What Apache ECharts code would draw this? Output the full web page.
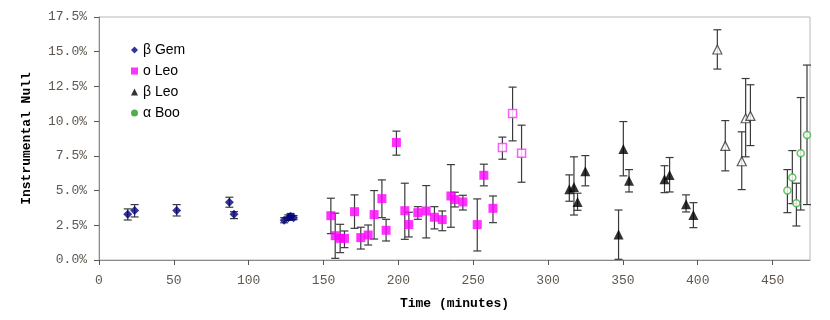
<!DOCTYPE html>
<html>
<head>
<meta charset="utf-8">
<script src="https://cdn.jsdelivr.net/npm/echarts@6/dist/echarts.min.js"></script>
<style>html,body{margin:0;padding:0;background:#fff}#c{width:830px;height:320px}</style>
</head>
<body>
<div id="c"></div>
<script>
// [time (min), null (%), upper (%), lower (%)]
var betaGem = [
  [19.2, 3.29, 3.68, 2.88], [23.8, 3.56, 3.99, 3.10], [51.9, 3.56, 3.99, 3.17],
  [87.1, 4.16, 4.52, 3.80], [90.2, 3.29, 3.48, 2.98], [123.7, 2.86, 3.05, 2.68],
  [126.5, 3.05, 3.25, 2.85], [128.0, 3.15, 3.35, 2.95], [130.0, 3.05, 3.20, 2.90]
];
var oLeo = [
  [154.9, 3.19, 4.45, 1.90], [157.8, 1.75, 3.37, 0.12], [161.1, 1.56, 2.57, 0.53],
  [164.0, 1.56, 2.09, 0.89], [170.7, 3.48, 4.69, 2.28], [174.9, 1.61, 2.36, 0.79],
  [179.8, 1.80, 2.52, 1.08], [183.8, 3.27, 5.00, 1.51], [189.0, 4.42, 5.77, 3.05],
  [191.8, 2.14, 2.93, 1.37], [198.7, 8.46, 9.28, 7.55], [204.3, 3.55, 5.53, 1.49],
  [207.0, 2.55, 3.44, 1.66], [213.0, 3.41, 3.84, 2.93], [218.6, 3.53, 5.36, 1.59],
  [224.1, 3.08, 3.84, 2.24], [229.3, 2.91, 3.53, 2.11], [235.1, 4.61, 6.87, 2.36],
  [237.7, 4.35, 4.88, 3.82], [243.1, 4.18, 4.66, 3.60], [252.7, 2.55, 4.40, 0.65],
  [257.1, 6.10, 6.90, 5.34], [263.2, 3.72, 4.61, 2.69]
];
var oLeoOpen = [
  [269.5, 8.10, 8.85, 7.26], [276.3, 10.55, 12.45, 8.58], [282.3, 7.69, 9.71, 5.60]
];
var betaLeo = [
  [314.2, 5.10, 6.13, 4.23], [317.3, 5.26, 7.43, 3.24], [319.7, 4.18, 4.81, 3.58],
  [324.9, 6.39, 7.52, 5.34], [347.1, 1.83, 3.60, 0.05], [350.3, 8.00, 9.97, 6.06],
  [354.1, 5.70, 6.51, 4.90], [377.8, 5.82, 6.79, 4.85], [381.2, 6.13, 7.38, 4.90],
  [392.2, 4.01, 4.69, 3.46], [397.1, 3.24, 4.13, 2.33]
];
var betaLeoOpen = [
  [413.1, 15.16, 16.58, 13.75], [418.4, 8.22, 10.04, 6.42], [429.4, 7.11, 9.23, 5.07],
  [432.0, 10.21, 13.07, 7.43], [435.2, 10.38, 12.62, 8.24]
];
var alphaBoo = [
  [459.9, 5.00, 6.51, 3.41], [463.2, 5.94, 7.88, 4.06], [465.9, 4.09, 5.53, 2.45],
  [468.8, 7.69, 11.70, 3.60], [473.0, 9.01, 14.04, 3.99]
];
var xTicks = [0, 50, 100, 150, 200, 250, 300, 350, 400, 450];
var seriesNames = ['β Gem', 'o Leo', 'β Leo', 'α Boo'];

var chart = echarts.init(document.getElementById('c'), null, {renderer: 'canvas'});
var mono = '"Liberation Mono", "DejaVu Sans Mono", monospace';
var labelColor = '#5e574f';

function errSeries(data) {
  return {
    type: 'custom',
    silent: true,
    z: 1,
    data: data.map(function (d) { return [d[0], d[2], d[3]]; }),
    encode: {x: 0, y: [1, 2]},
    renderItem: function (params, api) {
      var hi = api.coord([api.value(0), api.value(1)]);
      var lo = api.coord([api.value(0), api.value(2)]);
      var w = 4;
      var st = {stroke: '#3a3a3a', lineWidth: 1.2};
      return {
        type: 'group',
        children: [
          {type: 'line', shape: {x1: hi[0], y1: hi[1], x2: lo[0], y2: lo[1]}, style: st},
          {type: 'line', shape: {x1: hi[0] - w, y1: hi[1], x2: hi[0] + w, y2: hi[1]}, style: st},
          {type: 'line', shape: {x1: lo[0] - w, y1: lo[1], x2: lo[0] + w, y2: lo[1]}, style: st}
        ]
      };
    }
  };
}
function pts(name, data, symbol, size, style) {
  return {
    name: name, type: 'scatter', z: 3,
    data: data.map(function (d) { return [d[0], d[1]]; }),
    symbol: symbol, symbolSize: size, itemStyle: style
  };
}

chart.setOption({
  animation: false,
  backgroundColor: '#fff',
  grid: {left: 99, right: 20, top: 17, bottom: 60, show: true, borderColor: '#b8b8b8', borderWidth: 1},
  legend: {
    orient: 'vertical', left: 126, top: 38,
    itemWidth: 7, itemHeight: 7, itemGap: 7,
    textStyle: {fontFamily: '"Liberation Sans", Arial, sans-serif', fontSize: 14, color: '#000'},
    data: [
      {name: seriesNames[0], icon: 'diamond'},
      {name: seriesNames[1], icon: 'rect'},
      {name: seriesNames[2], icon: 'triangle'},
      {name: seriesNames[3], icon: 'circle', itemStyle: {color: '#229922', borderWidth: 0}}
    ]
  },
  xAxis: {
    type: 'value', min: 0, max: 475, interval: 50,
    name: 'Time (minutes)', nameLocation: 'middle', nameGap: 37,
    nameTextStyle: {fontFamily: mono, fontWeight: 'bold', fontSize: 13, color: '#000'},
    axisLine: {show: true, lineStyle: {color: '#8a8a8a'}},
    axisTick: {show: true, length: 5, lineStyle: {color: '#555'}, customValues: xTicks},
    axisLabel: {fontFamily: mono, fontSize: 13, color: labelColor, margin: 14, customValues: xTicks},
    splitLine: {show: false}
  },
  yAxis: {
    type: 'value', min: 0, max: 17.5, interval: 2.5,
    name: 'Instrumental Null', nameLocation: 'middle', nameGap: 66, nameRotate: 90,
    nameTextStyle: {fontFamily: mono, fontWeight: 'bold', fontSize: 13, color: '#000'},
    axisLine: {show: true, lineStyle: {color: '#8a8a8a'}},
    axisTick: {show: true, length: 5, lineStyle: {color: '#555'}},
    axisLabel: {fontFamily: mono, fontSize: 13, color: labelColor, margin: 12,
      formatter: function (v) { return v.toFixed(1) + '%'; }},
    splitLine: {show: false}
  },
  series: [
    errSeries(betaGem), errSeries(oLeo), errSeries(oLeoOpen),
    errSeries(betaLeo), errSeries(betaLeoOpen), errSeries(alphaBoo),
    pts(seriesNames[0], betaGem, 'diamond', 9, {color: '#000080'}),
    pts(seriesNames[1], oLeo, 'rect', 9, {color: '#ff00ff'}),
    pts('o Leo (open)', oLeoOpen, 'rect', 8, {color: '#fff', borderColor: '#ff33ff', borderWidth: 1.5}),
    pts(seriesNames[2], betaLeo, 'triangle', 10, {color: '#000'}),
    pts('β Leo (open)', betaLeoOpen, 'triangle', 9, {color: '#fff', borderColor: '#333', borderWidth: 1.2}),
    pts(seriesNames[3], alphaBoo, 'circle', 7, {color: '#fff', borderColor: '#3cb43c', borderWidth: 1.5})
  ]
});
</script>
</body>
</html>
